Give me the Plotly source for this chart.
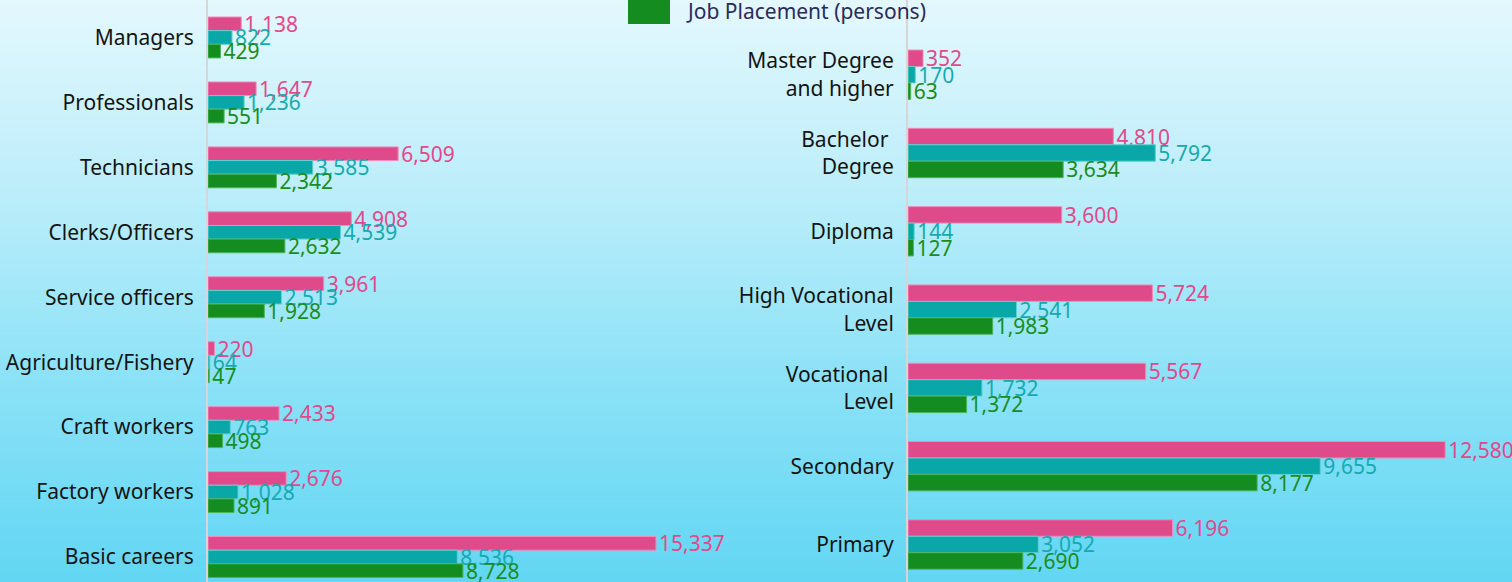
import plotly.graph_objects as go

# ---------------- data ----------------
occupations = ["Managers", "Professionals", "Technicians", "Clerks/Officers",
               "Service officers", "Agriculture/Fishery", "Craft workers",
               "Factory workers", "Basic careers"]
occ_vacancies = [1138, 1647, 6509, 4908, 3961, 220, 2433, 2676, 15337]
occ_applicants = [822, 1236, 3585, 4539, 2513, 64, 763, 1028, 8536]
occ_placement = [429, 551, 2342, 2632, 1928, 47, 498, 891, 8728]

education = ["Master Degree<br>and higher", "Bachelor <br>Degree", "Diploma",
             "High Vocational<br>Level", "Vocational <br>Level", "Secondary", "Primary"]
edu_vacancies = [352, 4810, 3600, 5724, 5567, 12580, 6196]
edu_applicants = [170, 5792, 144, 2541, 1732, 9655, 3052]
edu_placement = [63, 3634, 127, 1983, 1372, 8177, 2690]

series_names = ["Vacancies (positions)", "Job Applicants (persons)", "Job Placement (persons)"]
legend_label = series_names[2]

# ---------------- style ----------------
W, H = 1512, 582
FONT = "Noto Sans"
bar_colors = ["#de4a8a", "#0aa7a8", "#148c1f"]
line_colors = ["#f08cb6", "#5fd0d0", "#4fb35a"]
text_colors = ["#e2498b", "#16aab0", "#1a8d20"]

fig = go.Figure()

def add_group(cats, vals_list, xa, ya):
    for k, vals in enumerate(vals_list):
        fig.add_trace(go.Bar(
            y=cats, x=vals, orientation="h", name=series_names[k],
            xaxis=xa, yaxis=ya,
            marker=dict(color=bar_colors[k], line=dict(color=line_colors[k], width=1)),
            texttemplate="%{x:,}", textposition="outside",
            textfont=dict(family=FONT, size=21, color=text_colors[k]),
            constraintext="none", cliponaxis=False,
            showlegend=False, legendgroup=series_names[k],
        ))

add_group(occupations, [occ_vacancies, occ_applicants, occ_placement], "x", "y")
add_group(education, [edu_vacancies, edu_applicants, edu_placement], "x2", "y2")

# background gradient (light cyan to cyan)
stops = [(0.0, (228, 248, 253)), (200 / H, (186, 237, 250)), (380 / H, (140, 226, 247)), (1.0, (98, 214, 243))]
def col_at(t):
    for (t0, c0), (t1, c1) in zip(stops[:-1], stops[1:]):
        if t0 <= t <= t1:
            f = (t - t0) / (t1 - t0)
            return "rgb(%d,%d,%d)" % tuple(round(a + (b - a) * f) for a, b in zip(c0, c1))
    return "rgb(%d,%d,%d)" % stops[-1][1]

shapes = []
N = 90
for i in range(N):
    t0 = i / N
    t1 = (i + 1) / N
    shapes.append(dict(type="rect", xref="paper", yref="paper", x0=-0.01, x1=1.01,
                       y0=1 - t1 - 0.002, y1=1 - t0 + 0.002, line=dict(width=0),
                       fillcolor=col_at((t0 + t1) / 2), layer="below"))

# legend key (only the last entry is visible in the cropped reference)
shapes.append(dict(type="rect", xref="paper", yref="paper",
                   x0=628 / W, x1=670 / W, y0=1 - 24 / H, y1=1.01,
                   line=dict(width=0), fillcolor=bar_colors[2], layer="above"))
annotations = [dict(text=legend_label, xref="paper", yref="paper", x=684 / W, y=1 - 11 / H,
                    xanchor="left", yanchor="middle", showarrow=False,
                    font=dict(family=FONT, size=21, color="#2b2b5a"))]

axis_common = dict(showgrid=False, zeroline=False, showticklabels=False, fixedrange=True)
yaxis_common = dict(type="category", categoryorder="array", showgrid=False, zeroline=False,
                    showline=True, linecolor="#d6d6d6", linewidth=2, ticks="",
                    ticklabelstandoff=8, automargin=False,
                    tickfont=dict(family=FONT, size=21, color="#141414"))

fig.update_layout(
    width=W, height=H,
    margin=dict(l=0, r=0, t=0, b=0),
    paper_bgcolor="rgba(0,0,0,0)", plot_bgcolor="rgba(0,0,0,0)",
    barmode="group", bargap=0.37, bargroupgap=0,
    shapes=shapes, annotations=annotations, showlegend=False,
    xaxis=dict(domain=[208 / W, 740 / W], range=[0, 18213], **axis_common),
    yaxis=dict(anchor="x", domain=[0, 1], categoryarray=occupations,
               range=[8.385, -0.577], **yaxis_common),
    xaxis2=dict(domain=[908 / W, 1.0], range=[0, 14145], anchor="y2", **axis_common),
    yaxis2=dict(anchor="x2", domain=[0, 1], categoryarray=education,
                range=[6.479, -0.954], **yaxis_common),
)

fig.write_html("out.html", config={"displayModeBar": False},
               post_script="document.body.style.margin='0';document.body.style.padding='0';")
